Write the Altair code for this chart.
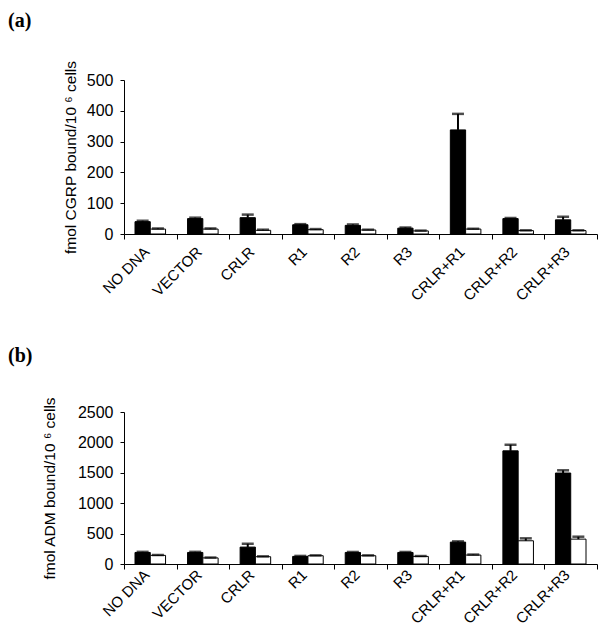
import altair as alt
import pandas as pd

categories = ["NO DNA", "VECTOR", "CRLR", "R1", "R2", "R3", "CRLR+R1", "CRLR+R2", "CRLR+R3"]
series = ["filled", "open"]

# Panel (a): CGRP binding
cgrp_filled = [40, 50, 53, 30, 28, 19, 338, 50, 46]
cgrp_filled_err = [3, 3, 10, 2, 3, 2, 52, 2, 10]
cgrp_open = [16, 16, 12, 14, 13, 10, 16, 11, 11]
cgrp_open_err = [2, 2, 2, 2, 1, 1, 1, 1, 1]

# Panel (b): ADM binding
adm_filled = [190, 190, 278, 125, 190, 190, 360, 1861, 1496]
adm_filled_err = [10, 10, 55, 8, 8, 8, 12, 100, 45]
adm_open = [142, 100, 120, 136, 136, 125, 147, 382, 409]
adm_open_err = [8, 6, 6, 6, 6, 6, 8, 40, 40]

FONT = "Liberation Sans"


def make_df(f, fe, o, oe):
    rows = []
    for i, c in enumerate(categories):
        rows.append({"cat": c, "series": "filled", "v": f[i], "top": f[i] + fe[i]})
        rows.append({"cat": c, "series": "open", "v": o[i], "top": o[i] + oe[i]})
    return pd.DataFrame(rows)


def panel(df, label, ymax, ystep, ytitle, h, tpad, toff, lpad):
    xenc = alt.X("cat:N", sort=categories, title=None,
                 scale=alt.Scale(paddingInner=0, paddingOuter=0),
                 axis=alt.Axis(labelAngle=315, labelAlign="right", labelBaseline="middle",
                               labelFont=FONT, labelFontSize=15, labelColor="black",
                               labelPadding=lpad, tickBand="extent", tickColor="black",
                               tickSize=5, domainColor="black", labelOffset=-4))
    xoff = alt.XOffset("series:N", sort=series,
                       scale=alt.Scale(paddingInner=0, paddingOuter=0.72, align=0.5))
    yscale = alt.Scale(domain=[0, ymax], nice=False)
    yaxis = alt.Axis(values=list(range(0, ymax + 1, ystep)), grid=False, title=ytitle,
                     format="d", labelOverlap=False,
                     titleFont=FONT, titleFontSize=15.5, titleFontWeight="normal",
                     titleColor="black", titlePadding=tpad,
                     labelFont=FONT, labelFontSize=16, labelColor="black",
                     tickColor="black", tickSize=4, domainColor="black", labelPadding=7)
    base = alt.Chart(df)
    bars = base.mark_bar(stroke="black", strokeWidth=1).encode(
        x=xenc, xOffset=xoff,
        y=alt.Y("v:Q", scale=yscale, axis=yaxis, title=ytitle),
        fill=alt.Fill("series:N", scale=alt.Scale(domain=series, range=["black", "white"]),
                      legend=None),
    )
    rule = base.mark_rule(color="black", strokeWidth=2).encode(
        x=xenc, xOffset=xoff, y=alt.Y("v:Q", scale=yscale, axis=yaxis, title=ytitle),
        y2="top:Q")
    cap = base.mark_tick(color="black", thickness=2.5, size=12).encode(
        x=xenc, xOffset=xoff, y=alt.Y("top:Q", scale=yscale, axis=yaxis, title=ytitle))
    return alt.layer(bars, rule, cap).properties(
        width=473, height=h,
        title=alt.TitleParams(label, anchor="start", frame="group", font="Liberation Serif",
                              fontSize=20, fontWeight="bold", color="black",
                              dx=-116, offset=toff),
    )


pa = panel(make_df(cgrp_filled, cgrp_filled_err, cgrp_open, cgrp_open_err),
           "(a)", 500, 100, "fmol CGRP bound/10 \u2076 cells", 154, 8, 29, 10)
pb = panel(make_df(adm_filled, adm_filled_err, adm_open, adm_open_err),
           "(b)", 2500, 500, "fmol ADM bound/10 \u2076 cells", 152, 20, 31, 3)

chart = alt.vconcat(pa, pb, spacing=41).properties(
    padding={"left": 0, "top": 3, "right": 0, "bottom": 0}
).configure(background="white").configure_view(stroke=None)

chart.save("out.html", embed_options={"renderer": "svg", "actions": False})
